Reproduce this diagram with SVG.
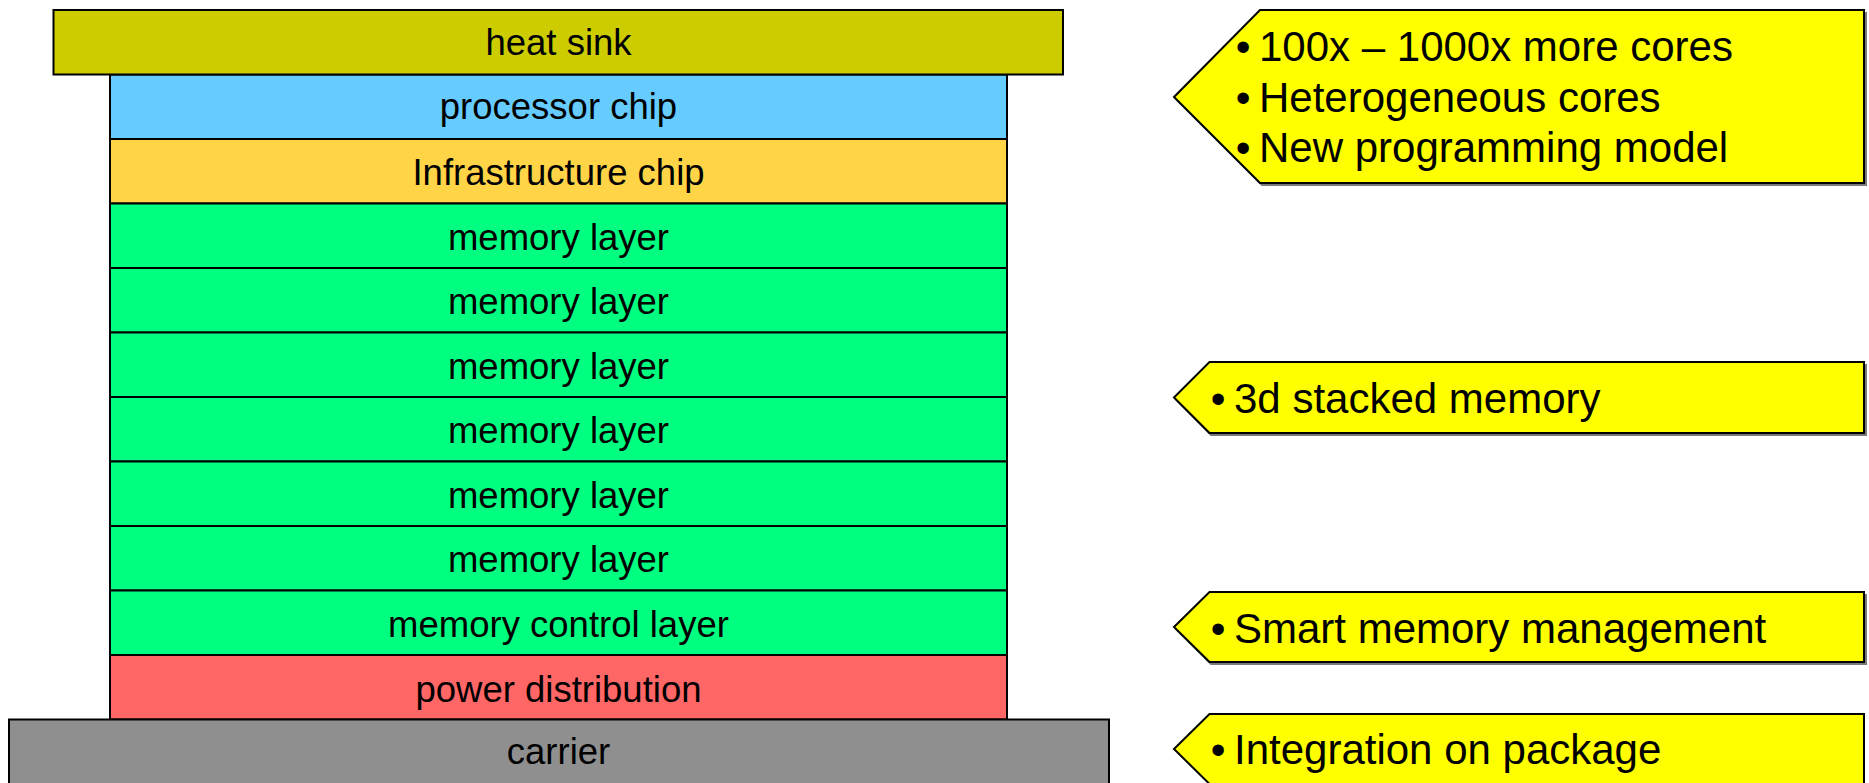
<svg xmlns="http://www.w3.org/2000/svg" width="1869" height="783" viewBox="0 0 1869 783">
  <style>
    .layer { stroke: #000; stroke-width: 2; }
    .lbl { font-family: "Liberation Sans", Arial, sans-serif; font-size: 36.5px; fill: #000; text-anchor: middle; }
    .tag { fill: #FFFF00; stroke: #000; stroke-width: 2; stroke-linejoin: miter; }
    .tag-shadow { fill: none; stroke: #7a7a7a; stroke-width: 2; }
    .pt { font-family: "Liberation Sans", Arial, sans-serif; font-size: 42px; fill: #000; }
    .dot { font-family: "Liberation Sans", Arial, sans-serif; font-size: 42px; fill: #000; text-anchor: middle; }
  </style>
  <rect width="1869" height="783" fill="#ffffff"/>

  <!-- layer stack, top to bottom -->
  <g id="processor-chip">
    <rect class="layer" x="110" y="74.5" width="897" height="64.5" fill="#66CCFF"/>
    <text class="lbl" x="558.5" y="119">processor chip</text>
  </g>
  <g id="infrastructure-chip">
    <rect class="layer" x="110" y="139" width="897" height="64.5" fill="#FFD447"/>
    <text class="lbl" x="558.5" y="184.5">Infrastructure chip</text>
  </g>
  <g id="memory-layer-1">
    <rect class="layer" x="110" y="203.5" width="897" height="64.5" fill="#00FF80"/>
    <text class="lbl" x="558.5" y="249.5">memory layer</text>
  </g>
  <g id="memory-layer-2">
    <rect class="layer" x="110" y="268" width="897" height="64.5" fill="#00FF80"/>
    <text class="lbl" x="558.5" y="314">memory layer</text>
  </g>
  <g id="memory-layer-3">
    <rect class="layer" x="110" y="332.5" width="897" height="64.5" fill="#00FF80"/>
    <text class="lbl" x="558.5" y="378.5">memory layer</text>
  </g>
  <g id="memory-layer-4">
    <rect class="layer" x="110" y="397" width="897" height="64.5" fill="#00FF80"/>
    <text class="lbl" x="558.5" y="443">memory layer</text>
  </g>
  <g id="memory-layer-5">
    <rect class="layer" x="110" y="461.5" width="897" height="64.5" fill="#00FF80"/>
    <text class="lbl" x="558.5" y="507.5">memory layer</text>
  </g>
  <g id="memory-layer-6">
    <rect class="layer" x="110" y="526" width="897" height="64.5" fill="#00FF80"/>
    <text class="lbl" x="558.5" y="572">memory layer</text>
  </g>
  <g id="memory-control-layer">
    <rect class="layer" x="110" y="590.5" width="897" height="64.5" fill="#00FF80"/>
    <text class="lbl" x="558.5" y="637">memory control layer</text>
  </g>
  <g id="power-distribution">
    <rect class="layer" x="110" y="655" width="897" height="64.5" fill="#FF6666"/>
    <text class="lbl" x="558.5" y="701.5">power distribution</text>
  </g>
  <g id="heat-sink">
    <rect class="layer" x="53.5" y="10" width="1009.5" height="64.5" fill="#CCCC00"/>
    <text class="lbl" x="558.5" y="55">heat sink</text>
  </g>
  <g id="carrier">
    <rect class="layer" x="9" y="719.5" width="1100" height="72" fill="#8F8F8F"/>
    <text class="lbl" x="558.5" y="764">carrier</text>
  </g>

  <!-- no connectors in this drawing -->
  <g id="connectors"/>

  <!-- pointer tags on the right -->
  <g id="tag-cores">
    <path class="tag-shadow" d="M1176 99 L1262 185 L1866 185 L1866 12"/>
    <path class="tag" d="M1174 97 L1260 10 L1864 10 L1864 183 L1260 183 Z"/>
    <text class="dot" x="1243" y="61">•</text>
    <text class="pt" x="1259" y="61">100x – 1000x more cores</text>
    <text class="dot" x="1243" y="112">•</text>
    <text class="pt" x="1259" y="112">Heterogeneous cores</text>
    <text class="dot" x="1243" y="162">•</text>
    <text class="pt" x="1259" y="162">New programming model</text>
  </g>
  <g id="tag-memory">
    <path class="tag-shadow" d="M1176 399.5 L1211 435 L1866 435 L1866 364"/>
    <path class="tag" d="M1174 397.5 L1209.5 362 L1864 362 L1864 433 L1209.5 433 Z"/>
    <text class="dot" x="1218" y="413">•</text>
    <text class="pt" x="1234" y="413">3d stacked memory</text>
  </g>
  <g id="tag-management">
    <path class="tag-shadow" d="M1176 629 L1211 664 L1866 664 L1866 594"/>
    <path class="tag" d="M1174 627 L1209.5 592 L1864 592 L1864 662 L1209.5 662 Z"/>
    <text class="dot" x="1218" y="642.5">•</text>
    <text class="pt" x="1234" y="642.5">Smart memory management</text>
  </g>
  <g id="tag-package">
    <path class="tag" d="M1174 749 L1209.5 714 L1864 714 L1864 784 L1209.5 784 Z"/>
    <text class="dot" x="1218" y="764">•</text>
    <text class="pt" x="1234" y="764">Integration on package</text>
  </g>
</svg>
